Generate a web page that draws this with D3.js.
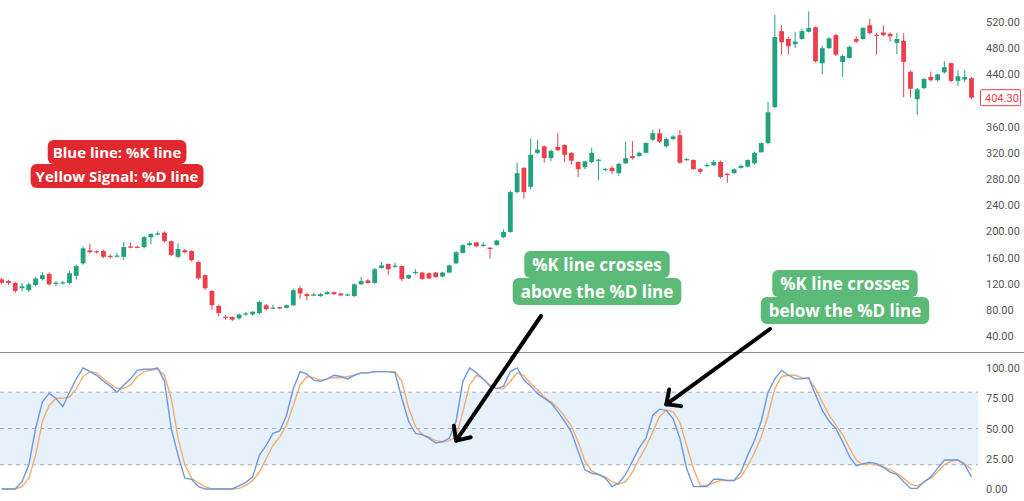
<!DOCTYPE html>
<html><head><meta charset="utf-8">
<script src="https://cdn.jsdelivr.net/npm/d3@7/dist/d3.min.js"></script>
<style>html,body{margin:0;padding:0;background:#fff;overflow:hidden}svg{display:block}</style>
</head><body>
<svg id="chart" width="1024" height="501"></svg>
<script>
// ---- data ----
const opens = [126.6,124,121,113,110,118,127,135,121,121, 121,132,151,171,169.5,170,162.5,162,161,177,
 176.5,176,191,195,198,185,161,171,170,153, 133,109,86,69.5,69,67,74,73,75,87,
 83,84,83,87,113,104,103,101,104,107, 105,103,101,119,125,121,144,150,147,147,
 128,136,137,136,137,131,137,151,167,179, 183,179,175,179,191,199,260,297,268,320,
 330,312,329,332,320,306,298,306,309,295, 297,289,304,315,315,320,340,350,330,341,
 347,310,309,295,301,301,306,288,289,297, 299,304,321,335,390,506,494,486,494,505,
 512,457,480,500,459,465,494,494,515,500.5, 504,502,488,491,444,402,419,436,431,443,
 457,430,432,434];
const closes = [121.4,121,109,116,119,128,133,119,121.5,122, 136,147,174,168,168.5,161,162,163,176,175,
 176,191,196,197,185,164,173,168,156,128, 113,87,75,69,65,73,74.5,77,92,81,
 83.5,82,87,110,105,101,103.5,104,107,104, 102,103.5,119,124,121,142,148,142,147.5,127,
 133,138,127,128,130,137,148,168,179,182, 177,179.5,173,186,199,260,289,260,317,325,
 312,323,324,317,308,295,307,320,309.5,295.5, 292,303,312,312,320,335,350,337,341,345,
 305,310.5,295,291,301.5,306,283,287,295,300, 309,320,335,382,497,489,483,490,506,511,
 460,480,495,470,468,482,490,511,503,500, 500,498,494,459,418,417,433,431,440,451,
 430,437,436,404.3];
const highs = [129,126,123,121,122,130,138,137,124,124, 140,149,177,181,171,172,165,167,184,183,
 178,193,197,200,200,186,182,173,171,155, 134,110,88,72,70,74,77,78,94,89,
 88,85,88,112,117,106,106,106,109,108, 106,105,120,130,127,144,153,151,152,148,
 134,142,138,137,138,138,149,170,180,185, 184,183,176,187,203,262,305,298,342,340,
 331,325,350,333,321,307,308,328,311,297, 300,305,337,338,322,336,355,357,343,347,
 355,312,310,297,304,309,308,289,296,302, 310,322,336,398,531,515,497,505,510,536,
 513,484,497,502,470,484,498,512,525,503, 515,504,503,503,446,419,434,444,441,460,
 458,446,446,436];
const lows = [119,118,106,108,107,116,125,117,116,119, 119,126,149,166,166,159,159,160,156,174,
 174,174,180,194,183,162,159,166,154,126, 110,80,70,65,63,65,71,71,73,79,
 81,81,82,86,97,95,101,100,103,103, 101,102,100,118,120,120,143,134,144,124,
 127,134,126,127,129,130,136,150,166,178, 176,176,158,178,190,198,258,250,264,318,
 305,307,323,306,302,283,295,304,278,292, 288,285,303,310,314,319,338,335,328,340,
 303,308,294,288,298,300,281,274,288,296, 298,302,320,333,388,470,470,480,493,504,
 458,440,479,468,436,464,488,493,501,470, 498,490,471,405,405,378,417,429,429,441,
 428,422,428,402];
const kLine = [0,0,0,6,20,50,72,79,75,68, 80,91,100,97,94,89,85,80,86,91,
 98,99,99,100,89,50,28,9,8,2, 0,0,0,0,0,2.5,5.5,10,28,36,
 46,48,61,83,97,95,90,89,91,94, 93,91,94,96,96,97,97,97,96,75,
 56,46,45,42,38,39,42,56,89,100, 96,91,85,83,85,97,100,90,85,79,
 75,71,64,56,47,31,16,13,12,9, 2,5,12,23,34,42,61,66,65,58,
 42,17,2,2,2,8,8,7,7,14, 28,40,56,80,91,98,94,91,91,92,
 78,65,56,50,39,27,19,21,22,21, 18,14,12,6,0.5,0.5,6,10,17,24,
 24,24,20,10];
const dLine = [0,0,0,2,9,28,56,69,75,75, 76,83,93,97,96,91,87,83,83,86,
 93,97,98,99,94,75,42,20,9,5, 2,0,0,0,0,0.5,3,7,14,25,
 36,43,53,69,86,93,92,90,91,92, 92,93,94,96,96,97,97,97,97,89,
 67,52,45,43,40,39,40,43,64,86, 94,91,86,83,83,89,96,94,87,82,
 76,72,67,60,52,39,23,15,12,10, 6,4,6,14,25,35,47,60,65,64,
 55,36,17,3,3,5,7,7,7,10, 19,30,43,61,83,93,94,94,92,91,
 83,72,61,53,45,34,24,20,21,20, 18,16,13,9,4,2.5,6,9,14,20,
 23,24,21,16];
const priceTicks = [520,480,440,360,320,280,240,200,160,120,80,40];
const oscTicks = [100,75,50,25,0];
const oscBands = [80,50,20];
const lastPrice = 404.30;
const legendLines = ["Blue line: %K line","Yellow Signal: %D line"];
const noteAbove = ["%K line crosses","above the %D line"];
const noteBelow = ["%K line crosses","below the %D line"];

// ---- layout ----
const W = 1024, H = 501, plotRight = 978;
const n = opens.length;
const svg = d3.select("#chart");
const x = d3.scaleLinear().domain([0, n-1]).range([1.7, 971.5]);
const yP = d3.scaleLinear().domain([40,520]).range([336,22]);
const yO = d3.scaleLinear().domain([0,100]).range([489,368]);
const UP = "#22a17f", DOWN = "#eb3f4c";

// oscillator band
svg.append("rect").attr("x",0).attr("width",plotRight)
  .attr("y",yO(80)).attr("height",yO(20)-yO(80)).attr("fill","#e6f1fc");
svg.selectAll("line.band").data(oscBands).join("line").attr("class","band")
  .attr("x1",0).attr("x2",plotRight).attr("y1",d=>yO(d)).attr("y2",d=>yO(d))
  .attr("stroke","#a8abb0").attr("stroke-dasharray","4,4").attr("stroke-width",1);

// separator
svg.append("line").attr("x1",0).attr("x2",W).attr("y1",352.5).attr("y2",352.5)
  .attr("stroke","#8f8f8f").attr("stroke-width",1.2);

// candles
const idx = d3.range(n);
const g = svg.append("g");
g.selectAll("line.wick").data(idx).join("line").attr("class","wick")
  .attr("x1",i=>x(i)).attr("x2",i=>x(i))
  .attr("y1",i=>yP(highs[i])).attr("y2",i=>yP(lows[i]))
  .attr("stroke",i=>closes[i]>=opens[i]?UP:DOWN).attr("stroke-width",1);
g.selectAll("rect.body").data(idx).join("rect").attr("class","body")
  .attr("x",i=>x(i)-2.4).attr("width",4.8)
  .attr("y",i=>yP(Math.max(opens[i],closes[i])))
  .attr("height",i=>Math.max(1.2, Math.abs(yP(opens[i])-yP(closes[i]))))
  .attr("fill",i=>closes[i]>=opens[i]?UP:DOWN);

// stochastic lines
const lineGen = arr => d3.line().x((d,i)=>x(i)).y(d=>yO(d))(arr);
svg.append("path").attr("d",lineGen(dLine)).attr("fill","none")
  .attr("stroke","#f3ad6e").attr("stroke-width",1.4);
svg.append("path").attr("d",lineGen(kLine)).attr("fill","none")
  .attr("stroke","#6f98e0").attr("stroke-width",1.4);

// axes
const axFont = "Roboto, 'Open Sans', sans-serif";
function styleAxis(sel){
  sel.select(".domain").remove();
  sel.selectAll("text").attr("font-family",axFont).attr("font-size",11)
    .attr("fill","#555").attr("text-anchor","start");
}
svg.append("g").attr("transform",`translate(980,0)`)
  .call(d3.axisRight(yP).tickValues(priceTicks).tickSize(0).tickPadding(6).tickFormat(d3.format(".2f")))
  .call(styleAxis);
svg.append("g").attr("transform",`translate(980,0)`)
  .call(d3.axisRight(yO).tickValues(oscTicks).tickSize(0).tickPadding(6).tickFormat(d3.format(".2f")))
  .call(styleAxis);

// last price label
svg.append("rect").attr("x",980.5).attr("y",yP(lastPrice)-8).attr("width",40).attr("height",16)
  .attr("fill","#fff").attr("stroke","#e8444c").attr("stroke-width",1).attr("rx",1);
svg.append("text").attr("x",985).attr("y",yP(lastPrice)).attr("dy","0.35em")
  .attr("font-family",axFont).attr("font-size",11).attr("fill","#e8444c")
  .text(d3.format(".2f")(lastPrice));

// annotation boxes
function note(lines, cx, y0, lh, fs, color, padX, padY){
  const grp = svg.append("g");
  const rectG = grp.append("g"), textG = grp.append("g");
  lines.forEach((t,k)=>{
    const tx = textG.append("text").attr("x",cx).attr("y",y0+k*lh)
      .attr("text-anchor","middle").attr("font-family","'Open Sans', sans-serif")
      .attr("font-weight",700).attr("font-size",fs).attr("fill","#fff").text(t);
    const bb = tx.node().getBBox();
    rectG.append("rect").attr("x",bb.x-padX).attr("y",bb.y-padY)
      .attr("width",bb.width+2*padX).attr("height",bb.height+2*padY)
      .attr("rx",6).attr("fill",color);
  });
}
note(legendLines, 117, 158, 24, 15, "#e0282e", 5, 2);
note(noteAbove, 597, 271, 27, 17, "#5cba78", 8, 2);
note(noteBelow, 845, 290, 27, 17, "#5cba78", 8, 2);

// arrows
function arrow(x1,y1,x2,y2){
  const a = Math.atan2(y2-y1,x2-x1), L = 15, sp = 0.75;
  svg.append("line").attr("x1",x1).attr("y1",y1).attr("x2",x2).attr("y2",y2)
    .attr("stroke","#000").attr("stroke-width",4).attr("stroke-linecap","round");
  const p = [[x2-L*Math.cos(a-sp), y2-L*Math.sin(a-sp)],[x2,y2],[x2-L*Math.cos(a+sp), y2-L*Math.sin(a+sp)]];
  svg.append("path").attr("d",d3.line()(p)).attr("fill","none").attr("stroke","#000")
    .attr("stroke-width",4).attr("stroke-linecap","round").attr("stroke-linejoin","round");
}
arrow(541, 316, x(67), yO(40));
arrow(770, 329, x(98), yO(70));
</script>
</body></html>
